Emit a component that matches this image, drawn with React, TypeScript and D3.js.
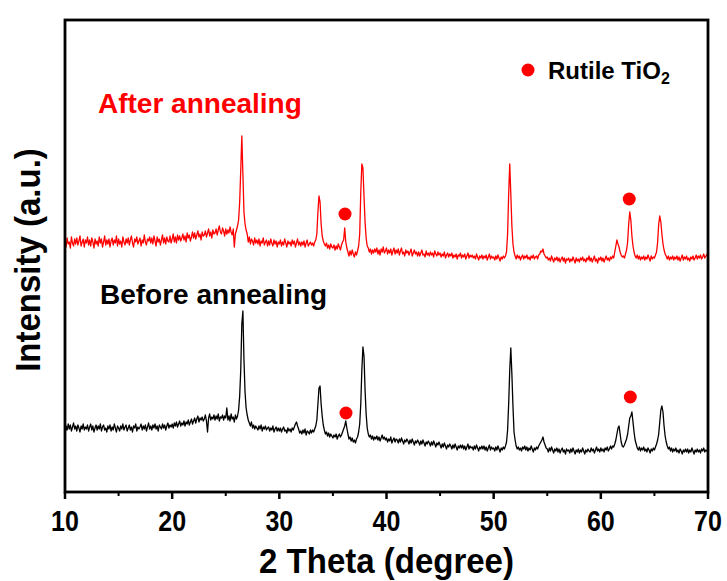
import React from "react";
import * as d3 from "d3";

// 2θ grid: 10° → 70° in 0.1° steps
const startAngle = 10;
const stepAngle = 0.1;

// After annealing (red) intensity, a.u.
const afterAnnealing = [
  252,245,254,248,250,244,255,249,246,253,
  248,254,247,251,256,246,250,253,245,252,
  249,255,247,252,246,254,250,244,253,248,
  251,246,255,249,253,245,250,256,247,252,
  248,253,245,251,254,247,252,249,256,246,
  253,248,251,245,255,250,247,253,249,254,
  247,252,256,249,245,253,250,255,248,251,
  254,246,252,249,257,250,247,253,251,255,
  249,254,248,256,251,246,255,250,253,247,
  252,257,249,254,248,255,251,250,256,249,
  253,258,250,255,249,257,252,256,251,254,
  258,252,256,250,259,254,257,251,255,260,
  254,259,253,257,261,255,258,252,260,256,
  257,261,255,259,263,256,260,254,262,258,
  259,263,257,262,266,260,258,264,261,256,
  263,258,262,259,265,260,257,263,245,258,
  262,266,272,290,322,356,318,280,268,262,
  258,250,255,248,253,251,247,254,249,252,
  248,253,246,251,249,254,247,250,252,246,
  251,247,253,249,246,252,248,251,245,250,
  248,252,246,250,247,253,249,245,251,248,
  250,246,252,248,251,245,249,253,247,250,
  246,250,247,251,245,249,252,246,248,250,
  247,249,246,250,252,258,280,296,290,268,
  256,251,248,246,249,244,247,243,248,245,
  244,247,242,246,243,248,245,242,247,250,
  252,264,250,244,240,236,241,237,242,238,
  235,240,237,241,246,258,300,328,324,296,
  270,254,246,244,240,243,238,242,239,243,
  240,244,238,242,237,243,240,245,239,241,
  244,238,242,239,243,237,241,244,238,242,
  239,243,237,241,244,238,240,236,242,239,
  241,237,240,243,236,239,242,238,240,236,
  240,236,239,242,237,238,235,241,237,239,
  236,240,237,239,235,241,238,236,240,237,
  239,235,238,236,240,234,237,239,235,238,
  236,239,234,237,235,238,233,237,236,239,
  234,237,235,238,233,236,239,234,237,235,
  237,234,236,233,238,235,232,236,234,237,
  233,236,234,237,232,235,238,233,236,234,
  235,232,236,233,237,234,231,235,233,236,
  234,236,240,258,298,328,298,266,248,240,
  236,233,237,234,236,232,235,237,233,236,
  234,237,233,235,232,236,234,237,233,235,
  236,233,237,238,241,240,243,238,236,234,
  235,232,234,231,236,233,230,234,232,235,
  231,234,230,233,235,231,234,229,233,232,
  234,230,233,231,235,232,229,234,231,233,
  230,234,232,235,231,233,230,234,232,236,
  231,234,230,233,236,231,233,229,234,232,
  235,231,234,230,233,236,232,234,231,235,
  233,236,234,240,246,252,248,245,240,237,
  235,236,234,238,242,250,268,280,272,256,
  246,240,236,234,237,233,236,232,235,233,
  236,232,235,233,237,234,231,236,233,235,
  234,237,240,250,268,276,270,258,248,242,
  238,236,233,236,232,235,233,236,232,235,
  233,236,232,235,231,234,237,232,235,233,
  236,232,234,231,235,233,236,232,234,237,
  233,236,234,237,233,235,238,234,236,237,
  240,
];

// Before annealing (black) intensity, a.u.
const beforeAnnealing = [
  57,66,62,68,63,67,61,65,69,63,
  66,61,67,64,60,66,63,68,62,65,
  63,67,61,65,68,62,66,60,64,67,
  62,66,63,68,61,65,67,62,64,60,
  66,63,67,61,65,62,68,64,60,66,
  64,61,66,63,68,62,65,67,61,64,
  67,62,65,60,66,64,68,61,65,63,
  65,68,62,66,63,67,61,65,69,63,
  66,62,67,64,68,63,66,61,67,65,
  63,68,64,67,62,66,69,64,67,65,
  68,64,69,66,70,65,68,71,66,69,
  67,71,66,70,68,72,67,70,73,68,
  71,74,69,73,76,70,74,72,75,71,
  73,77,71,60,74,78,72,75,73,77,
  72,76,73,78,71,75,74,77,72,76,
  74,84,72,76,71,78,73,75,70,77,
  73,76,82,96,122,168,181,132,100,84,
  77,72,69,66,70,64,67,63,66,64,
  62,66,63,67,61,65,63,66,62,64,
  65,61,64,62,66,60,63,65,61,64,
  61,64,60,63,65,61,62,59,64,61,
  63,60,64,62,65,68,70,66,63,59,
  61,58,62,59,63,57,61,60,58,62,
  59,62,60,63,66,72,88,104,106,88,
  76,67,62,58,60,56,59,55,58,56,
  54,57,55,58,53,56,58,55,57,60,
  63,66,71,64,58,53,55,51,54,50,
  52,49,53,55,60,68,88,122,145,136,
  102,78,64,58,55,57,53,56,52,55,
  53,56,52,55,51,54,57,53,55,52,
  54,50,53,51,55,49,52,54,50,53,
  52,49,53,50,54,51,48,52,50,53,
  51,48,52,49,53,50,47,51,49,52,
  50,47,51,48,52,49,46,50,48,51,
  49,46,50,47,51,48,45,49,47,50,
  47,44,48,45,49,46,43,47,45,48,
  46,43,47,44,48,45,42,46,44,47,
  44,47,43,46,42,45,48,43,46,44,
  45,42,46,43,47,44,41,45,43,46,
  43,46,42,45,41,44,47,42,45,43,
  44,41,45,42,46,43,40,44,42,45,
  43,46,50,62,88,122,144,118,86,60,
  52,46,43,45,42,44,41,45,43,46,
  42,45,41,44,42,46,43,40,44,42,
  45,43,46,48,50,52,55,50,47,44,
  43,40,44,41,45,42,39,43,41,44,
  40,43,39,42,44,40,42,38,43,41,
  42,39,43,40,44,41,38,42,40,43,
  39,42,40,44,41,38,42,40,43,41,
  40,44,41,43,39,42,45,41,43,40,
  44,41,43,40,44,42,45,41,43,46,
  43,46,45,48,52,58,64,66,58,50,
  46,45,47,50,53,58,66,74,76,80,
  70,60,52,48,44,42,45,41,44,42,
  45,41,43,40,44,42,39,43,41,44,
  42,45,48,52,58,70,82,86,80,66,
  56,50,46,43,45,41,44,40,43,41,
  44,40,42,39,43,41,38,42,40,43,
  40,43,39,42,40,44,41,38,42,40,
  43,40,42,39,43,41,44,40,42,41,
  43,
];

// Rutile TiO2 markers: [2θ, intensity]
const afterMarkers = [[36.13, 278], [62.65, 293]];
const beforeMarkers = [[36.22, 79], [62.75, 95]];

const xTicks = [10, 20, 30, 40, 50, 60, 70];
const xMinorTicks = [15, 25, 35, 45, 55, 65];

const W = 727, H = 581;
const M = { left: 65, top: 20, right: 19, bottom: 89 };
const FONT = "'Liberation Sans', Arial, Helvetica, sans-serif";

export default function App() {
  const iw = W - M.left - M.right;
  const ih = H - M.top - M.bottom;
  const x = d3.scaleLinear().domain([10, 70]).range([0, iw]);
  const y = d3.scaleLinear().domain([0, ih]).range([ih, 0]);
  const line = d3
    .line<number>()
    .x((_, i) => x(startAngle + i * stepAngle))
    .y((d) => y(d));

  return (
    <svg
      width={W}
      height={H}
      style={{ position: "absolute", left: 0, top: 0, background: "#fff" }}
      fontFamily={FONT}
    >
      <g transform={`translate(${M.left},${M.top})`}>
        <path d={line(beforeAnnealing) || ""} fill="none" stroke="#000" strokeWidth={1.3} strokeLinejoin="round" />
        <path d={line(afterAnnealing) || ""} fill="none" stroke="#ff0000" strokeWidth={1.3} strokeLinejoin="round" />
        {afterMarkers.concat(beforeMarkers).map((m, i) => (
          <circle key={i} cx={x(m[0])} cy={y(m[1])} r={6.5} fill="#ff0000" />
        ))}
        <rect x={0} y={0} width={iw} height={ih} fill="none" stroke="#000" strokeWidth={2.8} />
        {xTicks.map((t) => (
          <g key={t} transform={`translate(${x(t)},${ih})`}>
            <line y1={0} y2={7} stroke="#000" strokeWidth={2.5} />
            <text transform="translate(0,39) scale(1,1.15)" textAnchor="middle" fontSize={25} fontWeight="bold">
              {t}
            </text>
          </g>
        ))}
        {xMinorTicks.map((t) => (
          <line key={t} x1={x(t)} x2={x(t)} y1={ih} y2={ih + 4} stroke="#000" strokeWidth={2} />
        ))}
        <text transform={`translate(${iw / 2},${ih + 81}) scale(1,1.08)`} textAnchor="middle" fontSize={33} fontWeight="bold">
          2 Theta (degree)
        </text>
        <text
          transform={`translate(${-25},${ih / 2 + 4}) rotate(-90) scale(1,1.05)`}
          textAnchor="middle"
          fontSize={33}
          fontWeight="bold"
        >
          Intensity (a.u.)
        </text>
        <text x={33} y={93} fontSize={28} fontWeight="bold" fill="#ff0000">
          After annealing
        </text>
        <text x={35} y={284} fontSize={28} fontWeight="bold" fill="#000">
          Before annealing
        </text>
        <circle cx={463} cy={50} r={6.5} fill="#ff0000" />
        <text x={483} y={59} fontSize={24} fontWeight="bold">
          Rutile TiO
          <tspan fontSize={16} dy={5}>2</tspan>
        </text>
      </g>
    </svg>
  );
}
